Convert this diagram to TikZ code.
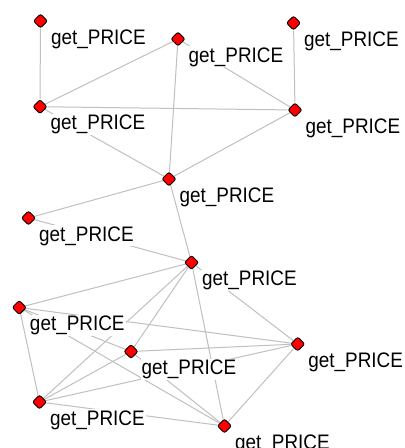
\documentclass[tikz,border=0pt]{standalone}
\usepackage{fontspec}
\usetikzlibrary{shapes.geometric}
\newfontfamily\lblfont[FakeStretch=0.9]{Liberation Sans}
\definecolor{edgegray}{RGB}{192,192,192}
\definecolor{vred}{RGB}{255,0,0}
\pgfdeclarelayer{edges}
\pgfsetlayers{edges,main}
\tikzset{
  vert/.style={diamond, draw=black, line width=0.9pt, fill=vred, minimum width=14.5pt, minimum height=14.5pt, inner sep=0pt, rounded corners=2.2pt},
  lbl/.style={anchor=base west, inner sep=1pt, fill=white, font=\lblfont\fontsize{21}{21}\selectfont, text=black},
  edge/.style={draw=edgegray, line width=1pt}
}
\newcommand\vtx[3]{%
  \node[vert] (#1) at (#2,#3) {};
  \node[lbl] (#1l) at (#2+9.5,#3+23) {get\_PRICE};}
\begin{document}
\begin{tikzpicture}[x=1pt,y=-1pt]
\begin{pgfonlayer}{edges}
\fill[white] (0,0) rectangle (405,448);
\end{pgfonlayer}
\useasboundingbox (0,0) rectangle (405,448);
\clip (0,0) rectangle (405,448);
\vtx{A}{40.5}{21}
\vtx{B}{178}{39}
\vtx{C}{293.5}{23}
\vtx{D}{40}{106.7}
\vtx{E}{295}{110}
\vtx{F}{169}{179}
\vtx{G}{28.5}{218}
\vtx{H}{191.5}{262.5}
\vtx{I}{19.3}{307.5}
\vtx{J}{131}{351.5}
\vtx{K}{297.7}{344}
\vtx{L}{39.5}{402}
\vtx{M}{224.5}{426}
\begin{pgfonlayer}{edges}
\draw[edge] (A) -- (D);
\draw[edge] (B) -- (D);
\draw[edge] (B) -- (E);
\draw[edge] (B) -- (F);
\draw[edge] (C) -- (E);
\draw[edge] (D) -- (E);
\draw[edge] (D) -- (F);
\draw[edge] (E) -- (F);
\draw[edge] (F) -- (G);
\draw[edge] (F) -- (H);
\draw[edge] (G) -- (H);
\draw[edge] (H) -- (I);
\draw[edge] (H) -- (J);
\draw[edge] (H) -- (K);
\draw[edge] (H) -- (L);
\draw[edge] (H) -- (M);
\draw[edge] (I) -- (J);
\draw[edge] (I) -- (K);
\draw[edge] (I) -- (L);
\draw[edge] (I) -- (M);
\draw[edge] (J) -- (K);
\draw[edge] (J) -- (L);
\draw[edge] (J) -- (M);
\draw[edge] (K) -- (L);
\draw[edge] (K) -- (M);
\draw[edge] (L) -- (M);
\end{pgfonlayer}
\end{tikzpicture}
\end{document}
